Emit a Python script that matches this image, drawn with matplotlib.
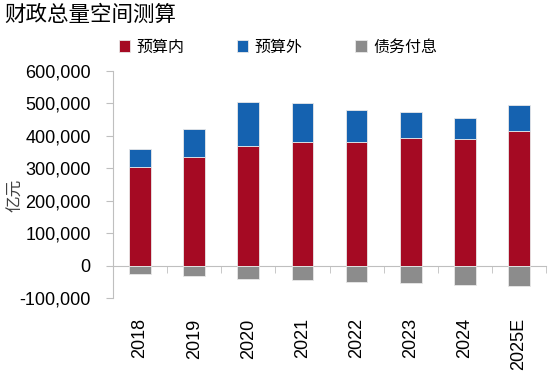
import matplotlib
matplotlib.use("Agg")
import matplotlib.pyplot as plt
import numpy as np
from matplotlib.ticker import FuncFormatter, FixedLocator

plt.rcParams['font.family'] = ['Liberation Sans', 'Noto Sans CJK SC', 'DejaVu Sans']

# data (亿元)
years = ['2018', '2019', '2020', '2021', '2022', '2023', '2024', '2025E']
in_budget = [305000, 334000, 370000, 381000, 381000, 392000, 390000, 416000]
off_budget = [54000, 87000, 135000, 121000, 99000, 82000, 66000, 80000]
interest = [-26000, -32000, -40000, -46000, -51000, -55000, -59000, -64000]

c_red = '#A50A23'
c_blue = '#1562B0'
c_gray = '#8C8C8C'

fig = plt.figure(figsize=(5.5, 3.76), dpi=100)
ax = fig.add_axes([113 / 550, 1 - 298 / 376, 433 / 550, 227 / 376])

x = np.arange(len(years))
w = 0.4
ax.bar(x, in_budget, w, color=c_red, edgecolor='#e8e8e8', linewidth=0.6, label='预算内', zorder=2)
ax.bar(x, off_budget, w, bottom=in_budget, color=c_blue, edgecolor='#e8e8e8', linewidth=0.6, label='预算外', zorder=2)
ax.bar(x, interest, w, color=c_gray, edgecolor='#e8e8e8', linewidth=0.6, label='债务付息', zorder=2)

ax.set_xlim(-0.5, len(years) - 0.5)
ax.set_ylim(-100000, 600000)
ax.set_yticks(np.arange(-100000, 600001, 100000))
ax.yaxis.set_major_formatter(FuncFormatter(lambda v, p: f'{int(v):,}'))

ax.spines['top'].set_visible(False)
ax.spines['right'].set_visible(False)
ax.spines['left'].set_color('#BFBFBF')
ax.spines['bottom'].set_position(('data', 0))
ax.spines['bottom'].set_color('#BFBFBF')
ax.spines['bottom'].set_zorder(1)

ax.set_xticks(x)
ax.set_xticklabels(years, rotation=90, fontsize=13)
ax.xaxis.set_minor_locator(FixedLocator(np.arange(-0.5, len(years), 1.0)))
ax.tick_params(axis='x', which='major', length=4, color='#D0D0D0', pad=34)
ax.tick_params(axis='x', which='minor', length=5, color='#BFBFBF')
ax.tick_params(axis='y', length=5, color='#BFBFBF', labelsize=13, pad=11)

ax.set_ylabel('亿元', fontsize=12, family=['Noto Sans CJK SC'], color='#404040')
ax.yaxis.set_label_coords(-0.205, 0.45)

fig.text(0.008, 0.96, '财政总量空间测算', fontsize=15.5, family=['Noto Sans CJK SC'], va='center', ha='left')

handles, labels = ax.get_legend_handles_labels()
fig.legend(handles, labels, loc='center left', bbox_to_anchor=(0.19, 0.875), ncol=3,
           frameon=False, prop={'family': 'Noto Sans CJK SC', 'size': 11.5},
           handlelength=0.7, handleheight=0.7, handletextpad=0.4, columnspacing=3.3)

fig.savefig('out.png', dpi=100)
plt.close()
